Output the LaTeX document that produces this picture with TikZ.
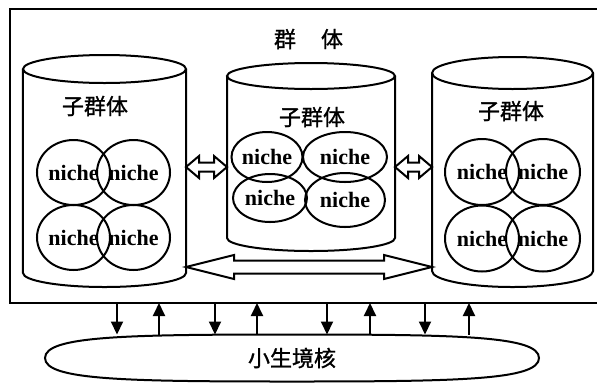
\documentclass[tikz,border=0pt]{standalone}
\usepackage{fontspec}
\setmainfont{Liberation Serif}
\newfontfamily\cjk[FakeBold=1.2]{Noto Sans CJK SC}
\usetikzlibrary{shapes.geometric,arrows.meta,calc}
\tikzset{
  line/.style={line width=2bp},
  nicheell/.style={ellipse,draw,line width=2bp,inner sep=0pt,
    font=\bfseries\fontsize{22bp}{24bp}\selectfont},
  cyl/.style={inner sep=0pt,outer sep=0pt},
  cjklabel/.style={font=\cjk\fontsize{22bp}{26bp}\selectfont,inner sep=0pt},
  smallarrow/.style={line width=2bp,-{Triangle[length=13bp,width=12bp]}},
}
% hollow double arrow: #1 left end, #2 right end, #3 half shaft, #4 half head, #5 head length
\newcommand{\hollowdbl}[5]{%
  \draw[line,line join=miter,fill=white] let \p1=(#1), \p2=(#2) in
    (\x1,\y1) -- (\x1+#5,\y1+#4) -- (\x1+#5,\y1+#3) -- (\x2-#5,\y1+#3)
    -- (\x2-#5,\y1+#4) -- (\x2,\y1) -- (\x2-#5,\y1-#4) -- (\x2-#5,\y1-#3)
    -- (\x1+#5,\y1-#3) -- (\x1+#5,\y1-#4) -- cycle;}
\begin{document}
\begin{tikzpicture}[x=1bp,y=-1bp]
\useasboundingbox (0,0) rectangle (597,382);
\fill[white] (0,0) rectangle (597,382);

% outer group frame
\node[draw,line width=1.6bp,minimum width=589bp,minimum height=294bp,anchor=north west,inner sep=0pt,outer sep=0pt] (grp) at (10,9) {};
\node[cjklabel] (title) at (308.5,39) {群\hspace{25bp}体};

% cylinders (nodes span top-ellipse centre to bottom-arc centre)
\node[cyl,minimum width=163bp,minimum height=204bp] (L) at (104.5,171) {};
\node[cyl,minimum width=168bp,minimum height=162bp] (M) at (311,157) {};
\node[cyl,minimum width=161bp,minimum height=198bp] (R) at (512.5,172) {};

\draw[line] (L.north west) -- (L.south west) arc(180:360:81.5bp and 14bp) -- (L.north east);
\draw[line] (L.north) ellipse (81.5bp and 14bp);
\draw[line] (M.north west) -- (M.south west) arc(180:360:84bp and 13bp) -- (M.north east);
\draw[line] (M.north) ellipse (84bp and 13bp);
\draw[line] (R.north west) -- (R.south west) arc(180:360:80.5bp and 16bp) -- (R.north east);
\draw[line] (R.north) ellipse (80.5bp and 16bp);

% sub-population labels
\node[cjklabel] (lL) at (95,106) {子群体};
\node[cjklabel] (lM) at (312,117) {子群体};
\node[cjklabel] (lR) at (511,111) {子群体};

% niches, left
\node[nicheell,minimum width=73bp,minimum height=65bp] (l1) at (73.5,172.5) {niche};
\node[nicheell,minimum width=73bp,minimum height=65bp] (l2) at (133.5,172.5) {niche};
\node[nicheell,minimum width=73bp,minimum height=65bp] (l3) at (73.5,237.5) {niche};
\node[nicheell,minimum width=73bp,minimum height=65bp] (l4) at (133.5,237.5) {niche};
% niches, middle
\node[nicheell,minimum width=71bp,minimum height=50bp] (m1) at (267,157) {niche};
\node[nicheell,minimum width=84bp,minimum height=50bp] (m2) at (345,157) {niche};
\node[nicheell,minimum width=74bp,minimum height=48bp] (m3) at (270,198) {niche};
\node[nicheell,minimum width=80bp,minimum height=54bp] (m4) at (345,200) {niche};
% niches, right
\node[nicheell,minimum width=74bp,minimum height=66bp] (r1) at (482,172) {niche};
\node[nicheell,minimum width=74bp,minimum height=66bp] (r2) at (543,172) {niche};
\node[nicheell,minimum width=74bp,minimum height=66bp] (r3) at (482,238.5) {niche};
\node[nicheell,minimum width=74bp,minimum height=66bp] (r4) at (543,238.5) {niche};

% exchange arrows between sub-populations
\coordinate (a1) at (L.east |- 0,167);
\coordinate (a2) at (M.west |- 0,167);
\coordinate (a3) at (M.east |- 0,167);
\coordinate (a4) at (R.west |- 0,167);
\coordinate (a5) at (L.east |- 0,267);
\coordinate (a6) at (R.west |- 0,267);
\hollowdbl{a1}{a2}{4.5bp}{11bp}{13bp}
\hollowdbl{a3}{a4}{4.5bp}{11bp}{13bp}
\hollowdbl{a5}{a6}{6.5bp}{12bp}{48bp}

% niche core
\node[cyl,minimum width=494bp,minimum height=47bp] (core) at (292,358) {};
\draw[line] (core.west) .. controls ($(core.west)+(0,-22)$) and ($(core.north west)+(80,0)$) .. (core.north)
  .. controls ($(core.north east)+(-80,0)$) and ($(core.east)+(0,-22)$) .. (core.east)
  .. controls ($(core.east)+(0,22)$) and ($(core.south east)+(-80,0)$) .. (core.south)
  .. controls ($(core.south west)+(80,0)$) and ($(core.west)+(0,22)$) .. (core.west) -- cycle;
\node[cjklabel] (coretext) at (core.center) {小生境核};

% vertical links
\foreach \x in {117,215,327,425}
  \draw[smallarrow] (grp.south -| \x,0) -- (core.north -| \x,0);
\foreach \x in {159,257,370,469}
  \draw[smallarrow] (core.north -| \x,0) -- (grp.south -| \x,0);
\end{tikzpicture}
\end{document}
